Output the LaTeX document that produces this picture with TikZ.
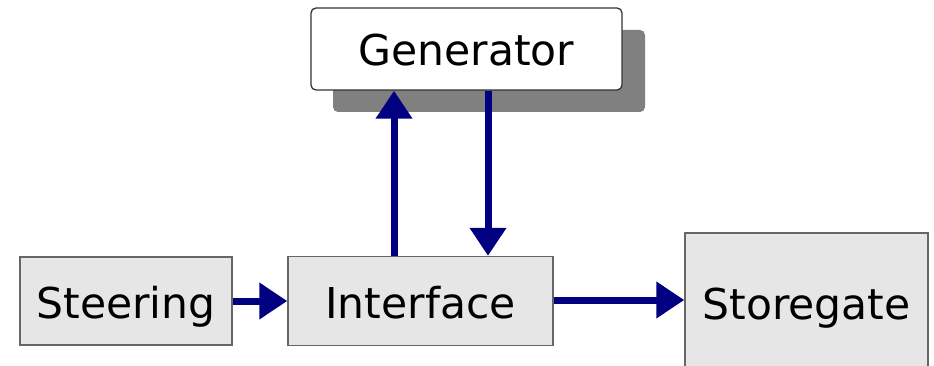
\documentclass[tikz,border=0pt]{standalone}
\usepackage{fontspec}
\setmainfont{DejaVu Sans}
\usetikzlibrary{arrows.meta}
\definecolor{boxfill}{HTML}{E6E6E6}
\definecolor{boxline}{HTML}{666666}
\definecolor{shadowgray}{HTML}{808080}
\definecolor{navy}{HTML}{000080}
\begin{document}
\begin{tikzpicture}[x=1pt,y=-1pt,
  boxtext/.style={inner sep=0pt,text height=34pt,text depth=0pt,
    font=\fontsize{42.5}{50}\selectfont},
  graybox/.style={boxtext,draw=boxline,line width=1.3pt,fill=boxfill},
  genbox/.style={boxtext,draw=black!80,line width=1.3pt,fill=white,rounded corners=5pt},
  flow/.style={draw=navy,line width=7pt,-{Triangle[length=28pt,width=35pt]}}]
\clip (0,0) rectangle (934,366);
\fill[white] (0,0) rectangle (934,366);
\fill[shadowgray,rounded corners=5pt] (333,30) rectangle (645,112);
\node[genbox,minimum width=311pt,minimum height=82pt] (gen) at (466.5,49) {Generator};
\node[graybox,minimum width=212pt,minimum height=88pt] (steer) at (126,301) {Steering};
\node[graybox,minimum width=265pt,minimum height=89pt] (intf) at (420.5,301) {Interface};
\node[graybox,minimum width=243pt,minimum height=138pt] (store) at (806.5,302) {Storegate};
\draw[flow] (steer.east) -- (intf.west);
\draw[flow] (intf.east |- 0,300) -- (store.west |- 0,300);
\draw[flow] (intf.north -| 394,0) -- (gen.south -| 394,0);
\draw[flow] (gen.south -| 488,0) -- (intf.north -| 488,0);
\end{tikzpicture}
\end{document}
